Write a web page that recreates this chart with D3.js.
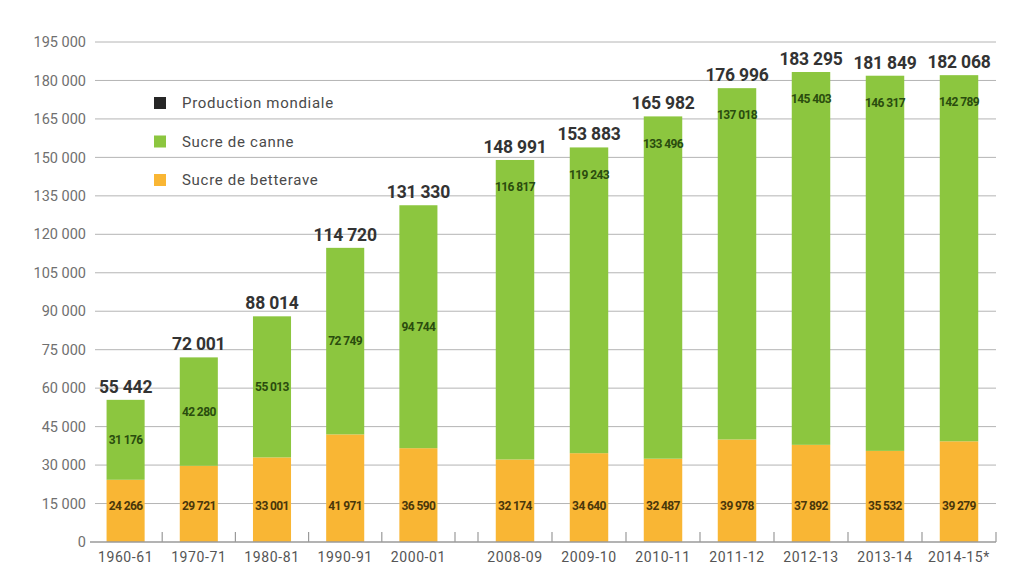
<!DOCTYPE html>
<html>
<head>
<meta charset="utf-8">
<script src="https://cdn.jsdelivr.net/npm/d3@7"></script>
<style>
  html, body { margin: 0; padding: 0; background: #ffffff; }
  svg { display: block; }
  text { font-family: Roboto, "DejaVu Sans", sans-serif; }
</style>
</head>
<body>
<svg id="chart" width="1024" height="586"></svg>
<script>
// ---- Data ----
const categories = ["1960-61", "1970-71", "1980-81", "1990-91", "2000-01",
  "2008-09", "2009-10", "2010-11", "2011-12", "2012-13", "2013-14", "2014-15*"];
const earlyCategories = ["1960-61", "1970-71", "1980-81", "1990-91", "2000-01"];
const recentCategories = ["2008-09", "2009-10", "2010-11", "2011-12", "2012-13", "2013-14", "2014-15*"];
const beetValues = [24266, 29721, 33001, 41971, 36590, 32174, 34640, 32487, 39978, 37892, 35532, 39279];
const caneValues = [31176, 42280, 55013, 72749, 94744, 116817, 119243, 133496, 137018, 145403, 146317, 142789];
const totalValues = [55442, 72001, 88014, 114720, 131330, 148991, 153883, 165982, 176996, 183295, 181849, 182068];
const yTickValues = [0, 15000, 30000, 45000, 60000, 75000, 90000, 105000, 120000, 135000, 150000, 165000, 180000, 195000];
const legendLabels = ["Production mondiale", "Sucre de canne", "Sucre de betterave"];

// ---- Styles ----
const colors = { total: "#262626", cane: "#8cc63f", beet: "#f9b634" };
const svg = d3.select("#chart");

const fmt = v => d3.format(",")(v).replace(/,/g, " ");

// ---- Scales ----
const y = d3.scaleLinear().domain([0, 195000]).range([542, 42]);
const xEarly = d3.scaleBand().domain(earlyCategories).range([89, 455]).paddingInner(0.48).paddingOuter(0.24);
const xRecent = d3.scaleBand().domain(recentCategories).range([478, 996]).paddingInner(0.48).paddingOuter(0.24);
const xOf = c => earlyCategories.includes(c) ? xEarly : xRecent;

const rows = categories.map((c, i) => ({ cat: c, beet: beetValues[i], cane: caneValues[i], total: totalValues[i] }));
const series = d3.stack().keys(["beet", "cane"])(rows);

// ---- Grid ----
svg.append("g")
  .selectAll("line")
  .data(yTickValues.filter(d => d > 0))
  .join("line")
  .attr("x1", 95).attr("x2", 996)
  .attr("y1", d => y(d)).attr("y2", d => y(d))
  .attr("stroke", "#b4b4b4").attr("stroke-width", 1);

// Y axis labels
const yAxis = d3.axisLeft(y).tickValues(yTickValues).tickFormat(fmt).tickSize(0).tickPadding(0);
const yg = svg.append("g").attr("transform", "translate(86,0)").call(yAxis);
yg.select(".domain").remove();
yg.selectAll("text")
  .attr("fill", "#707070")
  .style("font-size", "14.5px")
  .style("font-family", "Roboto, sans-serif");

// ---- Bars ----
const barG = svg.append("g");
series.forEach(s => {
  barG.append("g")
    .attr("fill", colors[s.key])
    .selectAll("rect")
    .data(s)
    .join("rect")
    .attr("x", d => xOf(d.data.cat)(d.data.cat))
    .attr("width", d => xOf(d.data.cat).bandwidth())
    .attr("y", d => y(d[1]))
    .attr("height", d => y(d[0]) - y(d[1]));
});

// Baseline
svg.append("line")
  .attr("x1", 90).attr("x2", 996)
  .attr("y1", y(0)).attr("y2", y(0))
  .attr("stroke", "#9a9a9a").attr("stroke-width", 1.3);

// X axes (ticks at band edges, drawn upwards)
function drawXAxis(scale) {
  const g = svg.append("g").attr("transform", `translate(0,${y(0)})`);
  const dom = scale.domain();
  const step = scale.step();
  const start = scale.range()[0];
  const edges = d3.range(1, dom.length + 1).map(i => start + i * step);
  if (scale === xRecent) edges.unshift(start);
  g.selectAll("line.tick")
    .data(edges)
    .join("line")
    .attr("x1", d => d).attr("x2", d => d)
    .attr("y1", 0).attr("y2", -10)
    .attr("stroke", "#9a9a9a").attr("stroke-width", 1.2);
  g.selectAll("text")
    .data(dom)
    .join("text")
    .attr("x", d => scale(d) + scale.bandwidth() / 2)
    .attr("y", 20)
    .attr("text-anchor", "middle")
    .attr("fill", "#555")
    .style("font-size", "14px")
    .style("letter-spacing", "0.6px")
    .text(d => d);
}
drawXAxis(xEarly);
drawXAxis(xRecent);

// ---- Value labels ----
const lab = svg.append("g");
rows.forEach(r => {
  const sc = xOf(r.cat);
  const cx = sc(r.cat) + sc.bandwidth() / 2;
  const early = earlyCategories.includes(r.cat);
  // total
  lab.append("text")
    .attr("x", cx).attr("y", y(r.total) - 7)
    .attr("text-anchor", "middle")
    .attr("fill", "#333")
    .style("font-size", "17.5px").style("font-weight", "700")
    .style("letter-spacing", "-0.2px")
    .text(fmt(r.total));
  // cane
  const caneTop = y(r.total), caneBottom = y(r.beet);
  const caneY = early ? (caneTop + caneBottom) / 2 : caneTop + 27;
  lab.append("text")
    .attr("x", cx).attr("y", caneY).attr("dy", "0.35em")
    .attr("text-anchor", "middle")
    .attr("fill", "#2a4c0e")
    .style("font-size", "12px").style("font-weight", "700")
    .style("letter-spacing", "-0.6px")
    .text(fmt(r.cane));
  // beet
  lab.append("text")
    .attr("x", cx).attr("y", y(0) - 36).attr("dy", "0.35em")
    .attr("text-anchor", "middle")
    .attr("fill", "#4a370a")
    .style("font-size", "12px").style("font-weight", "700")
    .style("letter-spacing", "-0.6px")
    .text(fmt(r.beet));
});

// ---- Legend ----
const legendColors = [colors.total, colors.cane, colors.beet];
const lg = svg.append("g");
legendLabels.forEach((t, i) => {
  const cy = 103 + i * 38.5;
  lg.append("rect").attr("x", 154).attr("y", cy - 6).attr("width", 12).attr("height", 12).attr("fill", legendColors[i]);
  lg.append("text").attr("x", 182).attr("y", cy).attr("dy", "0.35em")
    .attr("fill", "#4a4a4a").style("font-size", "15px").style("letter-spacing", "0.7px")
    .text(t);
});
</script>
</body>
</html>
